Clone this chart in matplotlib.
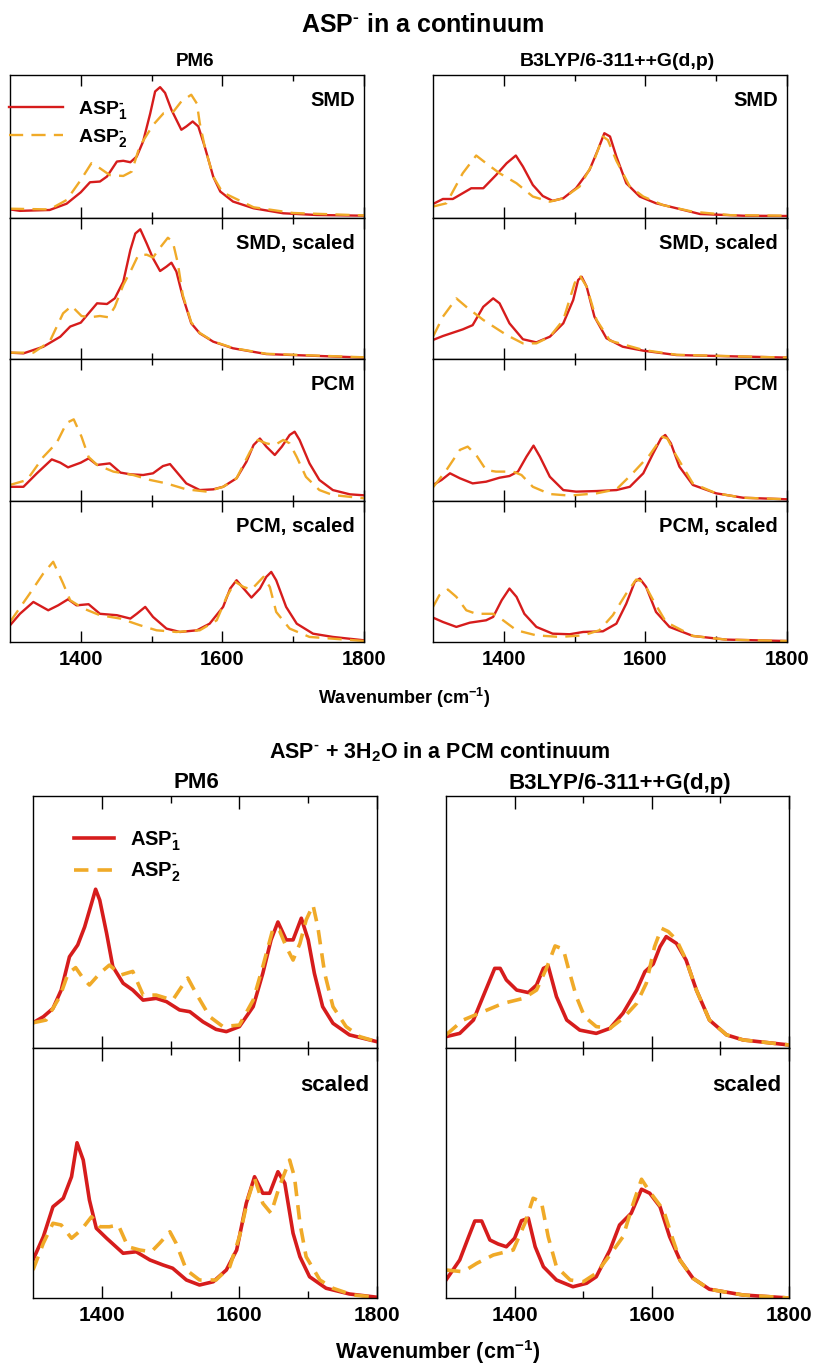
import matplotlib
matplotlib.use("Agg")
import matplotlib.pyplot as plt
from matplotlib.ticker import FixedLocator

plt.rcParams['font.family'] = ['Liberation Sans', 'DejaVu Sans']
plt.rcParams['font.weight'] = 'bold'
plt.rcParams['mathtext.fontset'] = 'custom'
plt.rcParams['mathtext.rm'] = 'Liberation Sans:bold'
plt.rcParams['mathtext.it'] = 'Liberation Sans:bold'
plt.rcParams['mathtext.bf'] = 'Liberation Sans:bold'
plt.rcParams['mathtext.default'] = 'rm'

RED = '#d61c1c'
ORANGE = '#f0aa28'

# ---------------- data: top block (ASP- in a continuum) ----------------
pm6_smd_x1 = [1300,1314,1356,1380,1400,1413,1427,1437,1451,1460,1470,1479,1488,1498,1505,1512,1519,1528,1542,1549,1558,1566,1575,1587,1597,1615,1644,1686,1733,1800]
pm6_smd_y1 = [.06,.05,.056,.10,.18,.25,.255,.29,.395,.40,.39,.43,.535,.73,.885,.915,.875,.757,.617,.64,.675,.64,.50,.29,.185,.115,.068,.033,.021,.016]
pm6_smd_x2 = [1300,1356,1380,1400,1415,1427,1441,1460,1472,1483,1502,1517,1531,1542,1556,1564,1568,1575,1587,1600,1644,1700,1800]
pm6_smd_y2 = [.065,.06,.126,.266,.383,.348,.30,.294,.325,.50,.65,.733,.745,.815,.862,.80,.664,.50,.29,.18,.075,.035,.018]

b3_smd_x1 = [1300,1314,1328,1354,1371,1389,1404,1417,1427,1441,1455,1469,1484,1502,1521,1533,1542,1550,1559,1573,1592,1615,1644,1677,1738,1800]
b3_smd_y1 = [.098,.133,.133,.208,.208,.30,.383,.437,.36,.231,.154,.12,.138,.208,.336,.477,.593,.57,.43,.243,.15,.103,.068,.028,.016,.014]
b3_smd_x2 = [1300,1319,1342,1361,1375,1394,1418,1441,1465,1484,1507,1526,1540,1547,1559,1578,1597,1625,1667,1720,1800]
b3_smd_y2 = [.08,.103,.313,.437,.383,.313,.243,.15,.114,.138,.22,.383,.57,.545,.40,.22,.15,.09,.044,.02,.016]

pm6_smds_x1 = [1300,1319,1347,1371,1385,1400,1411,1423,1437,1448,1460,1470,1477,1484,1493,1502,1512,1521,1528,1535,1544,1556,1568,1587,1615,1662,1800]
pm6_smds_y1 = [.045,.04,.087,.158,.23,.258,.324,.395,.39,.43,.548,.773,.89,.92,.82,.714,.624,.655,.683,.62,.442,.253,.182,.123,.076,.035,.01]
pm6_smds_x2 = [1300,1333,1356,1375,1387,1401,1413,1427,1439,1448,1460,1472,1481,1493,1502,1512,1523,1530,1537,1544,1556,1568,1587,1615,1662,1800]
pm6_smds_y2 = [.045,.045,.123,.324,.376,.305,.296,.305,.296,.37,.525,.64,.735,.74,.72,.79,.86,.83,.68,.454,.26,.185,.125,.078,.037,.012]

b3_smds_x1 = [1300,1314,1342,1356,1371,1385,1394,1408,1427,1446,1465,1484,1498,1505,1510,1517,1528,1545,1568,1597,1644,1800]
b3_smds_y1 = [.135,.163,.21,.24,.37,.43,.395,.253,.14,.118,.158,.253,.418,.56,.583,.513,.30,.147,.087,.059,.028,.01]
b3_smds_x2 = [1300,1314,1333,1347,1371,1404,1427,1446,1465,1484,1500,1507,1517,1531,1550,1597,1644,1800]
b3_smds_y2 = [.158,.30,.43,.37,.277,.17,.111,.111,.158,.277,.537,.595,.513,.277,.13,.064,.03,.01]

pm6_pcm_x1 = [1300,1319,1338,1359,1371,1382,1400,1411,1423,1441,1456,1470,1488,1502,1516,1526,1535,1549,1568,1587,1601,1620,1634,1644,1653,1662,1674,1684,1695,1702,1709,1723,1737,1756,1780,1800]
pm6_pcm_y1 = [.10,.10,.195,.293,.27,.237,.27,.30,.254,.265,.20,.188,.183,.195,.246,.26,.207,.124,.077,.082,.10,.16,.277,.394,.44,.383,.324,.383,.465,.488,.43,.265,.148,.077,.047,.04]
pm6_pcm_x2 = [1300,1324,1347,1366,1380,1390,1401,1411,1423,1446,1474,1498,1521,1549,1578,1601,1620,1639,1650,1662,1674,1686,1695,1705,1718,1737,1756,1800]
pm6_pcm_y2 = [.113,.148,.31,.41,.55,.575,.453,.31,.254,.207,.183,.148,.124,.082,.066,.10,.16,.347,.43,.406,.394,.43,.406,.31,.17,.077,.042,.019]

b3_pcm_x1 = [1300,1312,1324,1338,1356,1375,1394,1408,1420,1432,1442,1451,1465,1484,1502,1531,1559,1578,1597,1611,1622,1628,1636,1648,1667,1700,1738,1800]
b3_pcm_y1 = [.113,.148,.195,.16,.124,.136,.164,.176,.207,.312,.39,.312,.171,.077,.066,.07,.077,.10,.195,.336,.44,.465,.406,.242,.113,.054,.023,.012]
b3_pcm_x2 = [1300,1319,1338,1349,1361,1375,1389,1413,1425,1441,1465,1493,1531,1559,1582,1606,1624,1631,1643,1667,1700,1738,1800]
b3_pcm_y2 = [.096,.218,.36,.383,.324,.218,.207,.207,.183,.10,.049,.038,.054,.082,.195,.324,.453,.44,.324,.124,.054,.023,.012]

pm6_pcms_x1 = [1300,1314,1333,1354,1368,1382,1394,1411,1427,1451,1470,1479,1491,1502,1521,1540,1564,1582,1601,1611,1620,1630,1641,1653,1662,1669,1676,1690,1705,1728,1756,1800]
pm6_pcms_y1 = [.118,.20,.284,.225,.26,.303,.26,.268,.20,.19,.166,.20,.249,.178,.095,.071,.083,.13,.249,.379,.438,.379,.315,.379,.462,.497,.438,.249,.13,.059,.036,.012]
pm6_pcms_x2 = [1300,1328,1347,1361,1375,1385,1404,1427,1456,1484,1507,1535,1568,1592,1606,1618,1630,1641,1658,1667,1676,1695,1723,1800]
pm6_pcms_y2 = [.142,.344,.486,.569,.415,.296,.237,.19,.166,.118,.083,.071,.083,.154,.32,.427,.39,.372,.462,.39,.213,.095,.036,.007]

b3_pcms_x1 = [1300,1314,1333,1352,1375,1385,1397,1408,1418,1429,1446,1469,1493,1512,1540,1559,1573,1585,1592,1601,1615,1634,1667,1714,1800]
b3_pcms_y1 = [.173,.142,.107,.137,.154,.178,.296,.379,.32,.20,.107,.059,.055,.071,.076,.13,.272,.427,.45,.391,.213,.107,.043,.017,.007]
b3_pcms_x2 = [1300,1309,1321,1333,1347,1361,1385,1399,1418,1446,1479,1512,1535,1554,1573,1587,1597,1611,1629,1667,1714,1800]
b3_pcms_y2 = [.249,.332,.372,.32,.225,.20,.20,.154,.083,.047,.036,.047,.083,.19,.344,.443,.427,.296,.142,.043,.017,.007]

# ---------------- data: bottom block (ASP- + 3H2O in PCM) ----------------
w_pm6_x1 = [1300,1315,1329,1341,1353,1365,1375,1385,1391,1397,1407,1416,1431,1445,1460,1479,1494,1513,1528,1547,1566,1581,1600,1620,1634,1646,1656,1668,1678,1690,1700,1709,1721,1736,1760,1800]
w_pm6_y1 = [.10,.124,.157,.23,.362,.409,.48,.573,.63,.587,.455,.323,.257,.23,.19,.197,.184,.151,.144,.104,.074,.065,.085,.164,.296,.429,.50,.429,.429,.515,.429,.296,.164,.098,.052,.025]
w_pm6_x2 = [1300,1319,1339,1351,1362,1373,1382,1397,1411,1428,1445,1460,1479,1503,1516,1525,1537,1557,1576,1600,1620,1634,1649,1658,1668,1678,1688,1697,1707,1714,1724,1736,1755,1775,1800]
w_pm6_y2 = [.10,.111,.204,.296,.319,.276,.25,.296,.329,.29,.304,.21,.21,.19,.243,.278,.217,.124,.085,.091,.19,.323,.475,.468,.402,.349,.415,.508,.567,.48,.296,.164,.085,.045,.025]

w_b3_x1 = [1300,1320,1340,1354,1371,1379,1388,1403,1420,1432,1442,1449,1461,1476,1495,1519,1539,1558,1578,1590,1602,1612,1621,1636,1650,1665,1684,1709,1733,1800]
w_b3_y1 = [.045,.058,.111,.204,.316,.316,.27,.23,.22,.25,.316,.325,.204,.111,.071,.058,.078,.138,.23,.303,.333,.402,.442,.415,.349,.23,.111,.052,.032,.012]
w_b3_x2 = [1300,1325,1354,1383,1413,1432,1447,1459,1471,1478,1490,1502,1519,1539,1558,1578,1592,1604,1614,1624,1636,1650,1665,1684,1709,1733,1800]
w_b3_y2 = [.052,.111,.144,.177,.197,.23,.32,.405,.392,.32,.204,.124,.085,.078,.118,.177,.257,.402,.475,.462,.429,.349,.23,.111,.052,.032,.012]

ws_pm6_x1 = [1300,1315,1329,1344,1356,1364,1373,1382,1392,1407,1431,1450,1470,1489,1503,1523,1542,1562,1581,1596,1610,1622,1634,1644,1656,1666,1678,1688,1702,1726,1760,1800]
ws_pm6_y1 = [.152,.245,.365,.399,.485,.621,.552,.392,.279,.239,.179,.185,.152,.132,.119,.072,.052,.065,.112,.192,.379,.485,.419,.419,.505,.459,.259,.165,.085,.039,.016,.003]
ws_pm6_x2 = [1300,1315,1329,1341,1356,1370,1385,1397,1411,1424,1438,1455,1472,1484,1499,1508,1523,1542,1566,1586,1600,1612,1622,1634,1646,1658,1673,1680,1688,1697,1717,1736,1765,1800]
ws_pm6_y2 = [.112,.219,.299,.292,.239,.272,.325,.285,.285,.292,.205,.192,.185,.219,.265,.219,.112,.072,.072,.125,.245,.392,.479,.379,.339,.445,.552,.485,.299,.165,.072,.039,.012,.003]

ws_b3_x1 = [1300,1320,1333,1342,1352,1364,1376,1388,1400,1410,1420,1430,1442,1461,1485,1505,1519,1539,1553,1570,1585,1597,1612,1626,1641,1660,1684,1733,1800]
ws_b3_y1 = [.072,.152,.245,.308,.308,.232,.216,.205,.239,.309,.319,.205,.125,.072,.045,.059,.085,.192,.292,.339,.435,.419,.365,.245,.152,.079,.035,.012,.0]
ws_b3_x2 = [1300,1325,1345,1369,1398,1415,1427,1439,1449,1461,1481,1500,1519,1539,1558,1573,1585,1597,1617,1631,1641,1660,1684,1733,1800]
ws_b3_y2 = [.112,.105,.139,.172,.192,.299,.399,.385,.245,.125,.072,.065,.099,.172,.245,.379,.475,.425,.352,.232,.152,.079,.035,.012,.0]

major_ticks = [1400, 1600, 1800]
minor_ticks = [1500, 1700]
label1 = r'ASP$_1^{\text{-}}$'
label2 = r'ASP$_2^{\text{-}}$'

top_panels = [
    ('SMD', pm6_smd_x1, pm6_smd_y1, pm6_smd_x2, pm6_smd_y2, b3_smd_x1, b3_smd_y1, b3_smd_x2, b3_smd_y2),
    ('SMD, scaled', pm6_smds_x1, pm6_smds_y1, pm6_smds_x2, pm6_smds_y2, b3_smds_x1, b3_smds_y1, b3_smds_x2, b3_smds_y2),
    ('PCM', pm6_pcm_x1, pm6_pcm_y1, pm6_pcm_x2, pm6_pcm_y2, b3_pcm_x1, b3_pcm_y1, b3_pcm_x2, b3_pcm_y2),
    ('PCM, scaled', pm6_pcms_x1, pm6_pcms_y1, pm6_pcms_x2, pm6_pcms_y2, b3_pcms_x1, b3_pcms_y1, b3_pcms_x2, b3_pcms_y2),
]
bottom_panels = [
    ('', w_pm6_x1, w_pm6_y1, w_pm6_x2, w_pm6_y2, w_b3_x1, w_b3_y1, w_b3_x2, w_b3_y2),
    ('scaled', ws_pm6_x1, ws_pm6_y1, ws_pm6_x2, ws_pm6_y2, ws_b3_x1, ws_b3_y1, ws_b3_x2, ws_b3_y2),
]

W, H = 817, 1365
fig = plt.figure(figsize=(W / 100, H / 100), dpi=100)


def px_rect(x0, x1, y0, y1):
    return [x0 / W, 1 - y1 / H, (x1 - x0) / W, (y1 - y0) / H]


def style(ax, show_labels, lsize, major_len, minor_len):
    ax.set_xlim(1300, 1800)
    ax.set_ylim(0, 1)
    ax.set_yticks([])
    ax.xaxis.set_major_locator(FixedLocator(major_ticks))
    ax.xaxis.set_minor_locator(FixedLocator(minor_ticks))
    ax.tick_params(axis='x', which='both', direction='in', top=True, bottom=True, width=1.0)
    ax.tick_params(axis='x', which='major', length=major_len, labelsize=lsize, pad=6)
    ax.tick_params(axis='x', which='minor', length=minor_len)
    if not show_labels:
        ax.tick_params(axis='x', labelbottom=False)
    for s in ax.spines.values():
        s.set_linewidth(1.0)


# top block
top_rows = [(75, 218), (218, 359), (359, 501), (501, 642)]
cols_top = [(10, 364), (433, 787)]
top_lw = 1.7
for r, (panel, ax1, ay1, ax2, ay2, bx1, by1, bx2, by2) in enumerate(top_panels):
    y0, y1 = top_rows[r]
    for c, (x0, x1) in enumerate(cols_top):
        ax = fig.add_axes(px_rect(x0, x1, y0, y1))
        xs1, ys1, xs2, ys2 = (ax1, ay1, ax2, ay2) if c == 0 else (bx1, by1, bx2, by2)
        l1, = ax.plot(xs1, ys1, color=RED, lw=top_lw, label=label1)
        l2, = ax.plot(xs2, ys2, color=ORANGE, lw=top_lw, dashes=(6, 3.5), label=label2)
        style(ax, r == 3, 14.5, 8, 4)
        ax.text(0.975, 0.82, panel, transform=ax.transAxes, ha='right', va='center',
                fontsize=14.5, fontweight='bold')
        if r == 0 and c == 0:
            ax.legend(handles=[l1, l2], loc='upper left', bbox_to_anchor=(-0.025, 0.885),
                      frameon=False, fontsize=14, handlelength=2.8, handletextpad=0.75,
                      labelspacing=0.28, borderaxespad=0.0)

fig.text(423 / W, 1 - 25 / H, r'ASP$^{\text{-}}$ in a continuum', ha='center', va='center',
         fontsize=18, fontweight='bold')
fig.text(195 / W, 1 - 62 / H, 'PM6', ha='center', va='center', fontsize=13.5, fontweight='bold')
fig.text(617 / W, 1 - 61 / H, 'B3LYP/6-311++G(d,p)', ha='center', va='center', fontsize=14,
         fontweight='bold')
fig.text(404 / W, 1 - 698 / H, r'Wavenumber (cm$^{-1}$)', ha='center', va='center',
         fontsize=13, fontweight='bold')

# bottom block
bot_rows = [(796, 1048), (1048, 1298)]
cols_bot = [(33, 377), (446, 789)]
bot_lw = 2.6
for r, (panel, ax1, ay1, ax2, ay2, bx1, by1, bx2, by2) in enumerate(bottom_panels):
    y0, y1 = bot_rows[r]
    for c, (x0, x1) in enumerate(cols_bot):
        ax = fig.add_axes(px_rect(x0, x1, y0, y1))
        xs1, ys1, xs2, ys2 = (ax1, ay1, ax2, ay2) if c == 0 else (bx1, by1, bx2, by2)
        l1, = ax.plot(xs1, ys1, color=RED, lw=bot_lw, label=label1)
        l2, = ax.plot(xs2, ys2, color=ORANGE, lw=bot_lw, dashes=(4, 2.5), label=label2)
        style(ax, r == 1, 15, 9, 5)
        if panel:
            ax.text(0.978, 0.85, panel, transform=ax.transAxes, ha='right', va='center',
                    fontsize=16, fontweight='bold')
        if r == 0 and c == 0:
            ax.legend(handles=[l1, l2], loc='upper left', bbox_to_anchor=(0.095, 0.90),
                      frameon=False, fontsize=14.5, handlelength=2.0, handletextpad=0.8,
                      labelspacing=0.4, borderaxespad=0.0)

fig.text(440 / W, 1 - 752 / H, r'ASP$^{\text{-}}$ + 3H$_2$O in a PCM continuum', ha='center',
         va='center', fontsize=15.5, fontweight='bold')
fig.text(196 / W, 1 - 783 / H, 'PM6', ha='center', va='center', fontsize=16, fontweight='bold')
fig.text(620 / W, 1 - 783 / H, 'B3LYP/6-311++G(d,p)', ha='center', va='center', fontsize=16,
         fontweight='bold')
fig.text(438 / W, 1 - 1352 / H, r'Wavenumber (cm$^{-1}$)', ha='center', va='center',
         fontsize=15.5, fontweight='bold')

fig.savefig('out.png', dpi=100)
